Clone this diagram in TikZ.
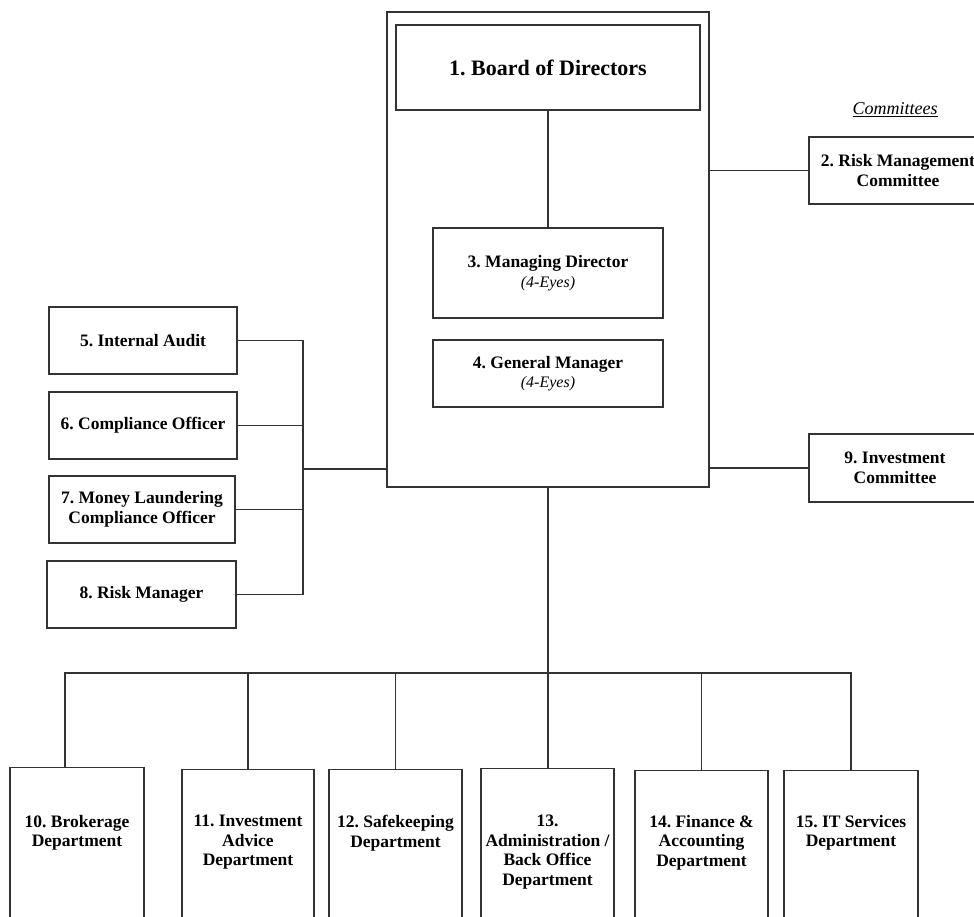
\documentclass[tikz,border=0pt]{standalone}
\usepackage{fontspec}
\setmainfont{Liberation Serif}
\usetikzlibrary{positioning}
\frenchspacing
\newcommand\orgfont{\fontsize{17.5}{19.5}\selectfont\bfseries}
\newcommand\eyesfont{\fontsize{16}{19}\selectfont\mdseries\itshape}
\tikzset{
  orgbox/.style={draw=black!80, line width=1.4pt, inner sep=0pt, align=center, font=\orgfont},
  deptbox/.style={orgbox, anchor=north, minimum width=133pt, minimum height=220pt},
  depttext/.style={inner sep=0pt, align=center, font=\orgfont},
  link/.style={draw=black!80, line width=1.4pt},
}

\begin{document}
\begin{tikzpicture}[x=1pt, y=-1pt]
  %%%%% START %%%%%
  \useasboundingbox (0,0) rectangle (974,916);
  \clip (0,0) rectangle (974,916);

  % board frame
  \node[orgbox, minimum width=322pt, minimum height=475pt] (outer) at (548, 249.5) {};
  \node[orgbox, minimum width=304pt, minimum height=85pt, font=\fontsize{22}{26}\selectfont\bfseries] (board) at (548, 67.5) {1. Board of Directors};
  \node[orgbox, minimum width=230pt, minimum height=90pt] (md) at (548, 273) {3. Managing Director\\{\eyesfont (4-Eyes)}};
  \node[orgbox, minimum width=230pt, minimum height=67pt] (gm) at (548, 373.5) {4. General Manager\\{\eyesfont (4-Eyes)}};

  % committees
  \node[font=\fontsize{18}{20}\selectfont\itshape] (cmt) at (895, 110) {\underline{Committees}};
  \node[orgbox, minimum width=178pt, minimum height=67pt] (rmc) at (898, 170.5) {2. Risk Management\\Committee};
  \node[orgbox, minimum width=172pt, minimum height=68pt] (ic) at (895, 468) {9. Investment\\Committee};

  % control functions
  \node[orgbox, minimum width=188pt, minimum height=67pt] (ia) at (143, 340.5) {5. Internal Audit};
  \node[orgbox, minimum width=188pt, minimum height=67pt] (co) at (143, 425.5) {6. Compliance Officer};
  \node[orgbox, minimum width=186pt, minimum height=67pt] (mlco) at (142, 509.5) {7. Money Laundering\\Compliance Officer};
  \node[orgbox, minimum width=189pt, minimum height=67pt] (rm) at (141.5, 594.5) {8. Risk Manager};

  % departments
  \node[deptbox, minimum width=134pt] (d10) at (77, 767) {};
  \node[deptbox, minimum width=132pt] (d11) at (248, 769) {};
  \node[deptbox] (d12) at (395.5, 769) {};
  \node[deptbox] (d13) at (547.5, 768) {};
  \node[deptbox] (d14) at (701.5, 770) {};
  \node[deptbox, minimum width=134pt] (d15) at (851, 770) {};
  \node[depttext, below=48pt of d10.north] (t10) {10. Brokerage\\Department};
  \node[depttext, below=46pt of d11.north] (t11) {11. Investment\\Advice\\Department};
  \node[depttext, below=46pt of d12.north] (t12) {12. Safekeeping\\Department};
  \node[depttext, below=47pt of d13.north] (t13) {13.\\Administration /\\Back Office\\Department};
  \node[depttext, below=45pt of d14.north] (t14) {14. Finance \&\\Accounting\\Department};
  \node[depttext, below=45pt of d15.north] (t15) {15. IT Services\\Department};

  % connectors
  \draw[link] (board.south) -- (md.north);
  \draw[link] (outer.east |- rmc.west) -- (rmc.west);
  \draw[link] (outer.east |- ic.west) -- (ic.west);

  \coordinate (lbus) at (303, 469);
  \draw[link] (ia.east) -| (lbus);
  \draw[link] (rm.east) -| (lbus);
  \draw[link] (co.east) -- (co.east -| lbus);
  \draw[link] (mlco.east) -- (mlco.east -| lbus);
  \draw[link] (lbus) -- (lbus -| outer.west);

  \coordinate (bbus) at (65, 673);
  \draw[link] (outer.south) -- (outer.south |- d13.north);
  \draw[link] (bbus |- d10.north) -- (bbus) -- (bbus -| d15.north) -- (d15.north);
  \foreach \d in {d11, d12, d14}
    \draw[link] (\d.north) -- (\d.north |- bbus);
  %%%%% END %%%%%
\end{tikzpicture}
\end{document}
